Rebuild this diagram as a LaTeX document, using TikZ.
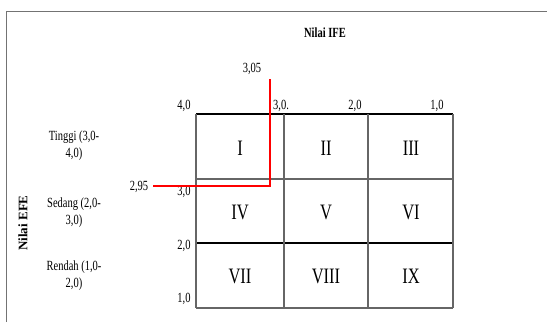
\documentclass[tikz,border=0pt]{standalone}
\usepackage{fontspec}
\setmainfont{Liberation Serif}[FakeStretch=0.75]
\newfontfamily\rotfont{Liberation Serif}
\tikzset{
  lbl/.style={inner sep=0pt, font=\fontsize{14}{15}\selectfont},
  roman/.style={inner sep=0pt, font=\fontsize{22}{23}\selectfont},
  rowlbl/.style={inner sep=0pt, align=center, font=\fontsize{14}{17}\selectfont},
  grid/.style={draw=black!60, line width=1.4pt},
  gridk/.style={draw=black, line width=1.4pt},
  redline/.style={draw=red, line width=2pt},
}
\begin{document}
\begin{tikzpicture}[x=1pt,y=-1pt]
\useasboundingbox (0,0) rectangle (547,322);
% outer frame
\draw[black!55, line width=1pt] (6.5,322) -- (6.5,11.5) -- (547,11.5);
% grid
\coordinate (g00) at (196,114);
\coordinate (g30) at (453,114);
\coordinate (g03) at (196,308);
\coordinate (g33) at (453,308);
\draw[gridk] (g00) -- (g30);
\draw[grid] (196,179) -- (453,179);
\draw[gridk] (196,243) -- (453,243);
\draw[grid] (g03) -- (g33);
\draw[grid] (g00) -- (g03);
\draw[grid] (284,114) -- (284,308);
\draw[grid] (368,114) -- (368,308);
\draw[grid] (g30) -- (g33);
% numerals
\node[roman] (c1) at (240,148) {I};
\node[roman] (c2) at (326,148) {II};
\node[roman] (c3) at (411,148) {III};
\node[roman] (c4) at (240,212) {IV};
\node[roman] (c5) at (326,212) {V};
\node[roman] (c6) at (411,212) {VI};
\node[roman] (c7) at (240,276) {VII};
\node[roman] (c8) at (326,276) {VIII};
\node[roman] (c9) at (411,276) {IX};
% titles
\node[lbl, font=\fontsize{14}{15}\selectfont\bfseries] (ife) at (325,33) {Nilai IFE};
\node[inner sep=0pt, rotate=90, font=\rotfont\fontsize{13}{15}\selectfont\bfseries] (efe) at (23,223) {Nilai EFE};
% top axis
\node[lbl] (t4) at (184,106) {4,0};
\node[lbl] (t3) at (281,106) {3,0.};
\node[lbl] (t2) at (355,106) {2,0};
\node[lbl] (t1) at (437,106) {1,0};
% left axis
\node[lbl] (l3) at (184,192) {3,0};
\node[lbl] (l2) at (184,246) {2,0};
\node[lbl] (l1) at (184,299) {1,0};
% row labels
\node[rowlbl] (r1) at (74,146) {Tinggi (3,0-\\4,0)};
\node[rowlbl] (r2) at (74,213) {Sedang (2,0-\\3,0)};
\node[rowlbl] (r3) at (74,276) {Rendah (1,0-\\2,0)};
% red lines
\node[lbl] (v305) at (252,69) {3,05};
\node[lbl] (v295) at (139,187) {2,95};
\coordinate (rtop) at (270,79);
\coordinate (rcorner) at (270,186);
\coordinate (rleft) at (153,186);
\draw[redline] (rtop) -- (rcorner) -- (rleft);
\end{tikzpicture}
\end{document}
